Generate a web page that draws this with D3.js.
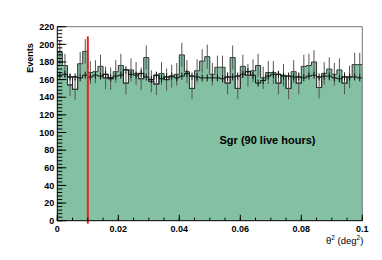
<!DOCTYPE html>
<html>
<head>
<meta charset="utf-8">
<script src="https://cdn.jsdelivr.net/npm/d3@7"></script>
<style>
  body { margin: 0; background: #fff; }
  text { font-family: "Liberation Sans", Arial, sans-serif; }
</style>
</head>
<body>
<div id="chart"></div>
<script>
// theta^2 histogram, 60 bins from 0 to 0.1
const binWidth = 0.1 / 60;
const onCounts = [191, 176, 154, 149, 178, 192, 168, 169, 175, 162,
                  161, 169, 176, 156, 171, 167, 161, 185, 158, 155,
                  167, 160, 164, 166, 188, 169, 150, 170, 181, 186,
                  166, 174, 174, 156, 185, 150, 175, 165, 170, 176,
                  162, 168, 168, 156, 165, 150, 169, 156, 175, 176,
                  180, 151, 167, 172, 166, 171, 156, 163, 177, 177];
const offCounts = [165, 166, 163, 163, 162, 165, 163, 165, 164, 166,
                   162, 164, 165, 171, 166, 165, 167, 163, 160, 165,
                   161, 163, 164, 162, 164, 167, 164, 163, 162, 162,
                   162, 162, 161, 163, 163, 164, 166, 169, 165, 156,
                   159, 164, 166, 166, 164, 164, 163, 163, 162, 164,
                   165, 163, 164, 164, 162, 161, 163, 163, 163, 162];
const offErr = 4;
const cutValue = 0.01;
const xTicks = [0, 0.02, 0.04, 0.06, 0.08, 0.1];
const yTicks = d3.range(0, 221, 20);
const label = "Sgr (90 live hours)";

const width = 382, height = 260;
const margin = { left: 57.3, right: 19.7, top: 26.7, bottom: 39.3 };

const svg = d3.select("#chart").append("svg")
    .attr("width", width)
    .attr("height", height);

const x = d3.scaleLinear().domain([0, 0.1]).range([margin.left, width - margin.right]);
const y = d3.scaleLinear().domain([0, 220]).range([height - margin.bottom, margin.top]);

const bins = onCounts.map((v, i) => ({ x0: i * binWidth, x1: (i + 1) * binWidth, on: v, off: offCounts[i] }));

const g = svg.append("g");

// green on histogram as one stepped area
const stepPts = [];
bins.forEach(d => { stepPts.push([x(d.x0), y(d.on)]); stepPts.push([x(d.x1), y(d.on)]); });
g.append("path")
    .attr("d", d3.area().x(p => p[0]).y0(y(0)).y1(p => p[1])(stepPts))
    .attr("fill", "#84c1a3");

// white boxes where off is above on
g.selectAll(".offbox").data(bins.filter(d => d.off > d.on)).enter().append("rect")
    .attr("x", d => x(d.x0))
    .attr("width", d => x(d.x1) - x(d.x0))
    .attr("y", d => y(d.off))
    .attr("height", d => y(d.on) - y(d.off))
    .attr("fill", "#fff")
    .attr("stroke", "#222")
    .attr("stroke-width", 1);

// on outline
g.append("path")
    .attr("d", d3.line()(stepPts))
    .attr("fill", "none")
    .attr("stroke", "#333")
    .attr("stroke-width", 1);

// on error bars
g.selectAll(".onerr").data(bins).enter().append("line")
    .attr("x1", d => x((d.x0 + d.x1) / 2))
    .attr("x2", d => x((d.x0 + d.x1) / 2))
    .attr("y1", d => y(d.on - Math.sqrt(d.on)))
    .attr("y2", d => y(d.on + Math.sqrt(d.on)))
    .attr("stroke", "#555")
    .attr("stroke-width", 1);

// off step with crosses
const offPts = [];
bins.forEach(d => { offPts.push([x(d.x0), y(d.off)]); offPts.push([x(d.x1), y(d.off)]); });
g.append("path")
    .attr("d", d3.line()(offPts))
    .attr("fill", "none")
    .attr("stroke", "#111")
    .attr("stroke-width", 1);

g.selectAll(".offerr").data(bins).enter().append("line")
    .attr("x1", d => x((d.x0 + d.x1) / 2))
    .attr("x2", d => x((d.x0 + d.x1) / 2))
    .attr("y1", d => y(d.off - offErr))
    .attr("y2", d => y(d.off + offErr))
    .attr("stroke", "#111")
    .attr("stroke-width", 1);

// cut line
svg.append("line")
    .attr("x1", x(cutValue)).attr("x2", x(cutValue))
    .attr("y1", y(0) + 3).attr("y2", y(209))
    .attr("stroke", "#e8231f")
    .attr("stroke-width", 2);

// frame
svg.append("path")
    .attr("d", `M${x(0)},${y(220)}H${x(0.1)}V${y(0)}`)
    .attr("fill", "none")
    .attr("stroke", "#777")
    .attr("stroke-width", 1);

// axes (ROOT style: ticks inside)
const xAxis = svg.append("g").attr("transform", `translate(0,${y(0)})`);
xAxis.append("line").attr("x1", x(0)).attr("x2", x(0.1)).attr("stroke", "#000");
xAxis.selectAll(".minor").data(d3.range(0, 0.1001, 0.005)).enter().append("line")
    .attr("x1", d => x(d)).attr("x2", d => x(d))
    .attr("y1", 0).attr("y2", -3).attr("stroke", "#000");
xAxis.selectAll(".major").data(xTicks).enter().append("line")
    .attr("x1", d => x(d)).attr("x2", d => x(d))
    .attr("y1", 0).attr("y2", -6).attr("stroke", "#000");
xAxis.selectAll(".lab").data(xTicks).enter().append("text")
    .attr("x", d => x(d)).attr("y", 11)
    .attr("text-anchor", "middle")
    .attr("font-size", 9).attr("font-weight", "bold")
    .text(d => d === 0 ? "0" : d3.format(".2~f")(d));

const yAxis = svg.append("g").attr("transform", `translate(${x(0)},0)`);
yAxis.append("line").attr("y1", y(0)).attr("y2", y(220)).attr("stroke", "#000");
yAxis.selectAll(".minor").data(d3.range(0, 221, 4)).enter().append("line")
    .attr("y1", d => y(d)).attr("y2", d => y(d))
    .attr("x1", 0).attr("x2", 5).attr("stroke", "#000");
yAxis.selectAll(".major").data(yTicks).enter().append("line")
    .attr("y1", d => y(d)).attr("y2", d => y(d))
    .attr("x1", 0).attr("x2", 9).attr("stroke", "#000");
yAxis.selectAll(".lab").data(yTicks).enter().append("text")
    .attr("x", -3).attr("y", d => y(d) + 3.2)
    .attr("text-anchor", "end")
    .attr("font-size", 9).attr("font-weight", "bold")
    .text(d => d);

svg.append("text")
    .attr("transform", `translate(32.5,${y(200) - 1}) rotate(-90)`)
    .attr("text-anchor", "end")
    .attr("font-size", 9).attr("font-weight", "bold")
    .text("Events");

const xt = svg.append("text")
    .attr("x", x(0.1) + 1).attr("y", 243.5)
    .attr("text-anchor", "end")
    .attr("font-size", 9.5);
xt.append("tspan").text("\u03b8");
xt.append("tspan").attr("dy", -4).attr("font-size", 6.5).text("2");
xt.append("tspan").attr("dy", 4).text(" (deg");
xt.append("tspan").attr("dy", -4).attr("font-size", 6.5).text("2");
xt.append("tspan").attr("dy", 4).text(")");

svg.append("text")
    .attr("x", 219.5).attr("y", 144.3)
    .attr("font-size", 11).attr("font-weight", "bold")
    .text(label);
</script>
</body>
</html>
